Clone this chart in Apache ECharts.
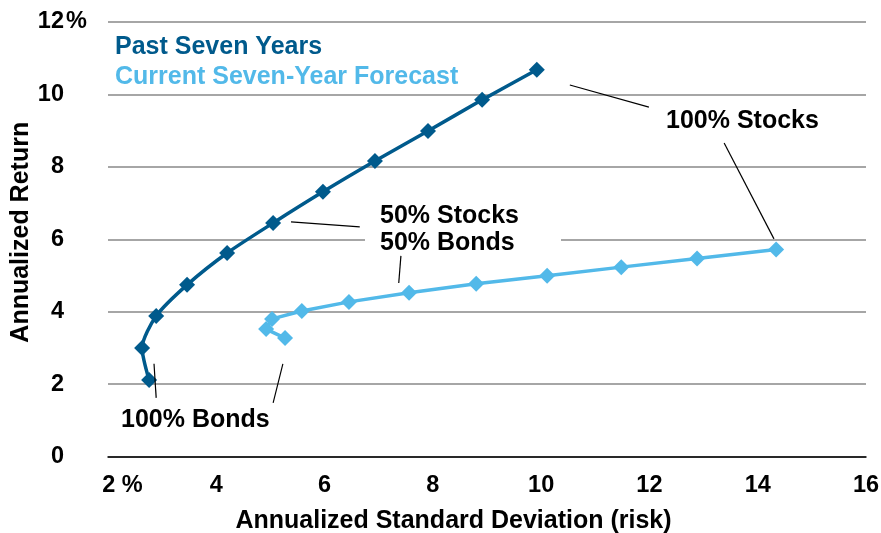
<!DOCTYPE html>
<html>
<head>
<meta charset="utf-8">
<script src="https://cdn.jsdelivr.net/npm/echarts@6/dist/echarts.min.js"></script>
<style>
html,body{margin:0;padding:0;background:#fff;}
#chart{width:881px;height:533px;}
</style>
</head>
<body>
<div id="chart"></div>
<script>
// ---- data ----
const seriesNames = ['Past Seven Years', 'Current Seven-Year Forecast'];
const pastRisk   = [2.76, 2.63, 2.89, 3.46, 4.20, 5.05, 5.97, 6.93, 7.91, 8.91, 9.92];
const pastReturn = [2.11, 3.00, 3.88, 4.74, 5.62, 6.45, 7.31, 8.16, 8.99, 9.85, 10.68];
const fcRisk     = [5.27, 4.92, 5.03, 5.58, 6.45, 7.56, 8.80, 10.11, 11.48, 12.88, 14.34];
const fcReturn   = [3.27, 3.52, 3.80, 4.02, 4.27, 4.52, 4.77, 4.99, 5.23, 5.47, 5.72];
const xTicks = [2, 4, 6, 8, 10, 12, 14, 16];
const yTicks = [0, 2, 4, 6, 8, 10, 12];
const annotationTexts = ['100% Stocks', '50% Stocks', '50% Bonds', '100% Bonds'];
// leader lines in data coordinates: [x1, y1, x2, y2]
const leaderLines = [
  [10.53, 10.26, 11.99, 9.65],
  [13.38, 8.66, 14.30, 6.01],
  [5.38, 6.48, 6.65, 6.34],
  [7.41, 5.54, 7.37, 4.79],
  [2.85, 2.56, 2.89, 1.62],
  [5.23, 2.56, 5.05, 1.48]
];

const DARK = '#005A8C';
const LIGHT = '#52B9E9';
const FONT = 'Liberation Sans, Arial, sans-serif';

const pastData = pastRisk.map((x, i) => [x, pastReturn[i]]);
const fcData = fcRisk.map((x, i) => [x, fcReturn[i]]);

const chart = echarts.init(document.getElementById('chart'), null, {renderer: 'canvas'});
chart.setOption({
  animation: false,
  backgroundColor: '#fff',
  textStyle: {fontFamily: FONT},
  grid: {left: 108, right: 15, top: 22, bottom: 76.5, containLabel: false, outerBoundsMode: 'none'},
  legend: {
    show: true,
    orient: 'vertical',
    left: 105,
    top: 30,
    itemGap: 5,
    itemWidth: 0,
    itemHeight: 0,
    selectedMode: false,
    data: [
      {name: seriesNames[0], icon: 'none', textStyle: {color: DARK}},
      {name: seriesNames[1], icon: 'none', textStyle: {color: LIGHT}}
    ],
    textStyle: {fontFamily: FONT, fontWeight: 'bold', fontSize: 25}
  },
  xAxis: {
    type: 'value',
    min: 2, max: 16, interval: 2,
    name: 'Annualized Standard Deviation (risk)',
    nameLocation: 'middle',
    nameGap: 52,
    nameMoveOverlap: false,
    nameTextStyle: {fontFamily: FONT, fontWeight: 'bold', fontSize: 25, color: '#000', padding: [0, 67, 0, 0]},
    axisLine: {show: true, onZero: false, lineStyle: {color: '#000', width: 1.5}},
    axisTick: {show: false},
    splitLine: {show: false},
    axisLabel: {
      margin: 17,
      fontFamily: FONT, fontWeight: 'bold', fontSize: 23.5, color: '#000',
      formatter: function (v) {
        if (v === xTicks[0]) return '{pad|}' + v + ' %';
        return String(v);
      },
      rich: {pad: {width: 29}}
    }
  },
  yAxis: {
    type: 'value',
    min: 0, max: 12, interval: 2,
    name: 'Annualized Return',
    nameLocation: 'middle',
    nameGap: 74,
    nameMoveOverlap: false,
    nameTextStyle: {fontFamily: FONT, fontWeight: 'bold', fontSize: 25, color: '#000', padding: [0, 0, 0, 14]},
    axisLine: {show: false},
    axisTick: {show: false},
    splitLine: {show: true, lineStyle: {color: '#A6A6A6', width: 2}},
    axisLabel: {
      margin: 19,
      fontFamily: FONT, fontWeight: 'bold', fontSize: 23.5, color: '#000',
      formatter: function (v) {
        if (v === yTicks[yTicks.length - 1]) return '{n|' + v + '}{p|%}';
        return '{n|' + v + '}{s|}';
      },
      rich: {
        n: {fontFamily: FONT, fontWeight: 'bold', fontSize: 23.5, color: '#000'},
        p: {fontFamily: FONT, fontWeight: 'bold', fontSize: 23.5, color: '#000', width: 25, align: 'left'},
        s: {width: 25}
      }
    }
  },
  series: [
    {
      name: seriesNames[0],
      type: 'line',
      data: pastData,
      smooth: 0.25,
      symbol: 'diamond',
      symbolSize: 16,
      z: 4,
      lineStyle: {color: DARK, width: 3.5},
      itemStyle: {color: DARK},
      markLine: {
        silent: true,
        symbol: 'none',
        label: {show: false},
        lineStyle: {color: '#000', width: 1.2, type: 'solid'},
        data: leaderLines.map(l => [{coord: [l[0], l[1]]}, {coord: [l[2], l[3]]}])
      }
    },
    {
      name: seriesNames[1],
      type: 'line',
      data: fcData,
      smooth: false,
      symbol: 'diamond',
      symbolSize: 16,
      z: 3,
      lineStyle: {color: LIGHT, width: 3.5},
      itemStyle: {color: LIGHT}
    }
  ],
  graphic: [
    {type: 'rect', z: 1, shape: {x: 365, y: 200, width: 196, height: 54}, style: {fill: '#fff'}},
    {type: 'text', z: 10, left: 666, top: 109, style: {text: annotationTexts[0], fill: '#000', font: 'bold 25px ' + FONT}},
    {type: 'text', z: 10, left: 380, top: 203, style: {text: annotationTexts[1] + '\n' + annotationTexts[2], fill: '#000', font: 'bold 25px ' + FONT, lineHeight: 27}},
    {type: 'text', z: 10, left: 121, top: 408, style: {text: annotationTexts[3], fill: '#000', font: 'bold 25px ' + FONT}}
  ]
});
</script>
</body>
</html>
